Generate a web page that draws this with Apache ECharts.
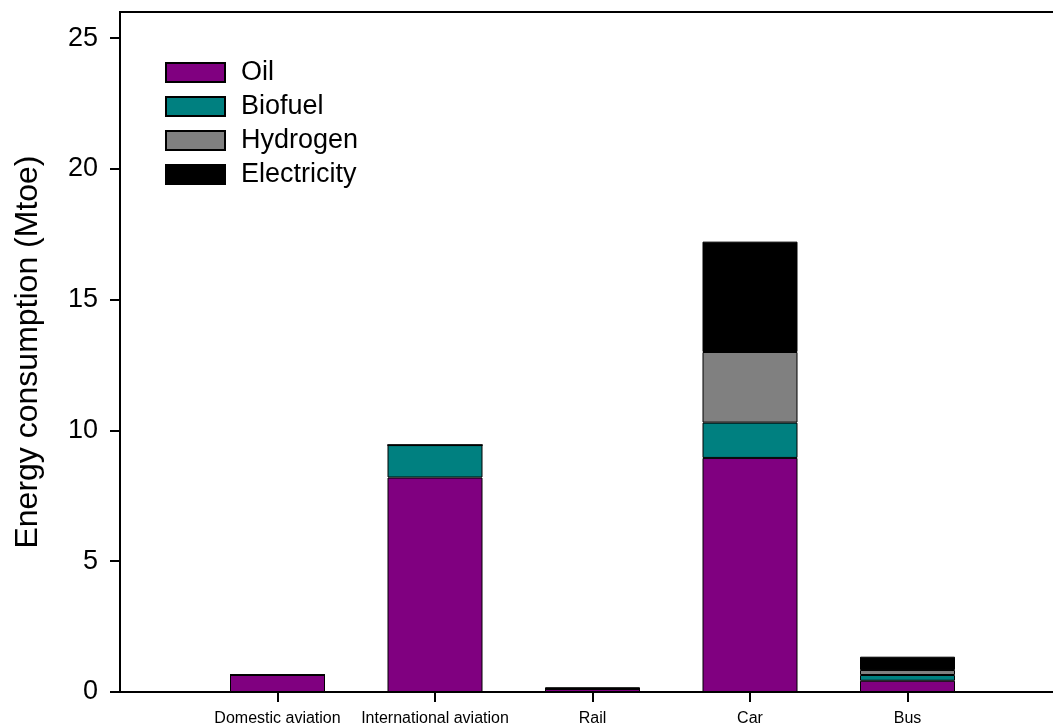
<!DOCTYPE html>
<html>
<head>
<meta charset="utf-8">
<script src="https://cdn.jsdelivr.net/npm/echarts@6/dist/echarts.min.js"></script>
<style>
html,body{margin:0;padding:0;background:#fff;}
#chart{width:1053px;height:725px;}
</style>
</head>
<body>
<div id="chart"></div>
<script>
const categories = ['Domestic aviation', 'International aviation', 'Rail', 'Car', 'Bus'];
const oil = [0.65, 8.2, 0.12, 8.95, 0.43];
const biofuel = [0, 1.24, 0, 1.35, 0.22];
const hydrogen = [0, 0, 0, 2.70, 0.19];
const electricity = [0, 0, 0.06, 4.22, 0.51];
const yTicks = [0, 5, 10, 15, 20, 25];

const FONT = 'Liberation Sans, Arial, sans-serif';
const axisData = [''].concat(categories, ['']);
const chart = echarts.init(document.getElementById('chart'));

function mk(name, vals, color) {
  return {
    name: name,
    type: 'bar',
    stack: 'total',
    barWidth: 95,
    data: ['-'].concat(vals, ['-']),
    itemStyle: { color: color, borderColor: '#000', borderWidth: 1 },
    emphasis: { disabled: true }
  };
}

chart.setOption({
  animation: false,
  backgroundColor: '#fff',
  grid: { left: 120, top: 12, width: 945, height: 680, outerBoundsMode: 'none', containLabel: false,
          show: true, borderColor: '#000', borderWidth: 2, backgroundColor: 'transparent' },
  legend: {
    orient: 'vertical',
    left: 165,
    top: 59,
    padding: 0,
    itemWidth: 59,
    itemHeight: 19,
    itemGap: 7,
    icon: 'rect',
    textStyle: { fontFamily: FONT, fontSize: 27, color: '#000', padding: [0, 0, 0, 11] },
    data: ['Oil', 'Biofuel', 'Hydrogen', 'Electricity']
  },
  xAxis: {
    type: 'category',
    data: axisData,
    boundaryGap: false,
    splitLine: { show: false },
    axisLine: { show: true, lineStyle: { color: '#000', width: 2 } },
    axisTick: { show: true, length: 10, interval: (i) => i >= 1 && i <= 5, lineStyle: { color: '#000', width: 2 } },
    axisLabel: { fontFamily: FONT, fontSize: 16, color: '#000', margin: 19, interval: 0 }
  },
  yAxis: {
    type: 'value',
    min: 0, max: 26, interval: 5,
    name: 'Energy consumption (Mtoe)',
    nameLocation: 'middle',
    nameGap: 76,
    nameTextStyle: { fontFamily: FONT, fontSize: 32, color: '#000' },
    splitLine: { show: false },
    axisLine: { show: true, lineStyle: { color: '#000', width: 2 } },
    axisTick: { show: true, length: 10, customValues: yTicks, lineStyle: { color: '#000', width: 2 } },
    axisLabel: { fontFamily: FONT, fontSize: 27, color: '#000', margin: 22, customValues: yTicks }
  },
  series: [
    mk('Oil', oil, '#800080'),
    mk('Biofuel', biofuel, '#008080'),
    mk('Hydrogen', hydrogen, '#808080'),
    mk('Electricity', electricity, '#000000')
  ]
});
</script>
</body>
</html>
